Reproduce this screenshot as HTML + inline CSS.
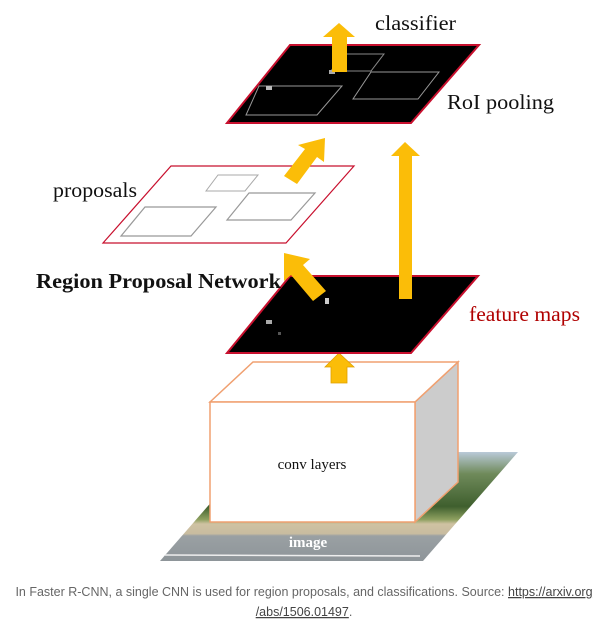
<!DOCTYPE html>
<html><head><meta charset="utf-8"><style>
html,body{margin:0;padding:0;background:#fff;width:608px;height:622px;overflow:hidden}
svg{display:block}
</style></head><body>
<svg width="608" height="622" viewBox="0 0 608 622" xmlns="http://www.w3.org/2000/svg">
<defs>
<linearGradient id="img" x1="0" y1="0" x2="0" y2="1">
<stop offset="0" stop-color="#b9c9d8"/>
<stop offset="0.2" stop-color="#6f8a5a"/>
<stop offset="0.5" stop-color="#3f5f2e"/>
<stop offset="0.62" stop-color="#8ea060"/>
<stop offset="0.66" stop-color="#cfc2a2"/>
<stop offset="0.75" stop-color="#c8bca0"/>
<stop offset="0.77" stop-color="#9aa0a3"/>
<stop offset="1" stop-color="#8e9599"/>
</linearGradient>
</defs>
<g font-family="Liberation Serif, serif">
<polygon points="255,452 518,452 423,561 160,561" fill="url(#img)"/>
<line x1="165" y1="555" x2="420" y2="556" stroke="#eee" stroke-width="1.5"/>
<text x="308" y="547" font-size="15" font-weight="bold" fill="#fff" text-anchor="middle">image</text>
<polygon points="415,402 458,362 458,482 415,522" fill="#cccccc" stroke="#f0a070" stroke-width="1.5"/>
<polygon points="210,402 253,362 458,362 415,402" fill="#fff" stroke="#f0a070" stroke-width="1.5"/>
<rect x="210" y="402" width="205" height="120" fill="#fff" stroke="#f0a070" stroke-width="1.5"/>
<text x="312" y="469" font-size="15" text-anchor="middle" fill="#111">conv layers</text>
<polygon points="339,353 354,367 347,367 347,383 331,383 331,367 325,367" fill="#fbbd08" stroke="#e0a000" stroke-width="0.8"/>
<polygon points="290,276 478,276 411,353 227,353" fill="#000" stroke="#c8102e" stroke-width="2"/>
<rect x="325" y="298" width="4" height="6" fill="#ccc"/>
<rect x="266" y="320" width="6" height="4" fill="#aaa"/>
<rect x="278" y="332" width="3" height="3" fill="#555"/>
<text x="469" y="321" font-size="21" fill="#b00000" textLength="111" lengthAdjust="spacingAndGlyphs">feature maps</text>
<polygon points="284,253 310,259 303,265 326,291 313,301 291,275 284,281" fill="#fbbd08"/>
<text x="36" y="288" font-size="21" font-weight="bold" fill="#111" textLength="245" lengthAdjust="spacingAndGlyphs">Region Proposal Network</text>
<polygon points="405,142 420,156 412,156 412,299 399,299 399,156 391,156" fill="#fbbd08"/>
<polygon points="171,166 354,166 286,243 103,243" fill="#fff" stroke="#c8102e" stroke-width="1.2"/>
<polygon points="218,175 258,175 245,191 206,191" fill="none" stroke="#aaa" stroke-width="1"/>
<polygon points="249,193 315,193 291,220 227,220" fill="none" stroke="#999" stroke-width="1.2"/>
<polygon points="145,207 216,207 191,236 121,236" fill="none" stroke="#999" stroke-width="1.2"/>
<text x="53" y="197" font-size="21" fill="#111" textLength="84" lengthAdjust="spacingAndGlyphs">proposals</text>
<polygon points="325,138 324,162 317,157 297,184 284,176 305,149 298,145" fill="#fbbd08"/>
<polygon points="290,45 479,45 411,123 227,123" fill="#000" stroke="#c8102e" stroke-width="2"/>
<polygon points="343,54 384,54 371,71 331,71" fill="none" stroke="#888" stroke-width="1"/>
<polygon points="371,72 439,72 418,99 353,99" fill="none" stroke="#999" stroke-width="1"/>
<polygon points="259,86 342,86 317,115 246,115" fill="none" stroke="#999" stroke-width="1"/>
<rect x="266" y="86" width="6" height="4" fill="#bbb"/>
<rect x="329" y="70" width="6" height="4" fill="#aaa"/>
<text x="447" y="109" font-size="21" fill="#111" textLength="107" lengthAdjust="spacingAndGlyphs">RoI pooling</text>
<polygon points="339,23 355,37 347,37 347,72 332,72 332,37 323,37" fill="#fbbd08"/>
<text x="375" y="30" font-size="21" fill="#111" textLength="81" lengthAdjust="spacingAndGlyphs">classifier</text>
</g>
<g font-family="Liberation Sans, sans-serif" font-size="12.5" fill="#666" text-anchor="middle">
<text x="304" y="596">In Faster R-CNN, a single CNN is used for region proposals, and classifications. Source: <tspan text-decoration="underline" fill="#444">https://arxiv.org</tspan></text>
<text x="304" y="616"><tspan text-decoration="underline" fill="#444">/abs/1506.01497</tspan>.</text>
</g>
</svg>
</body></html>
